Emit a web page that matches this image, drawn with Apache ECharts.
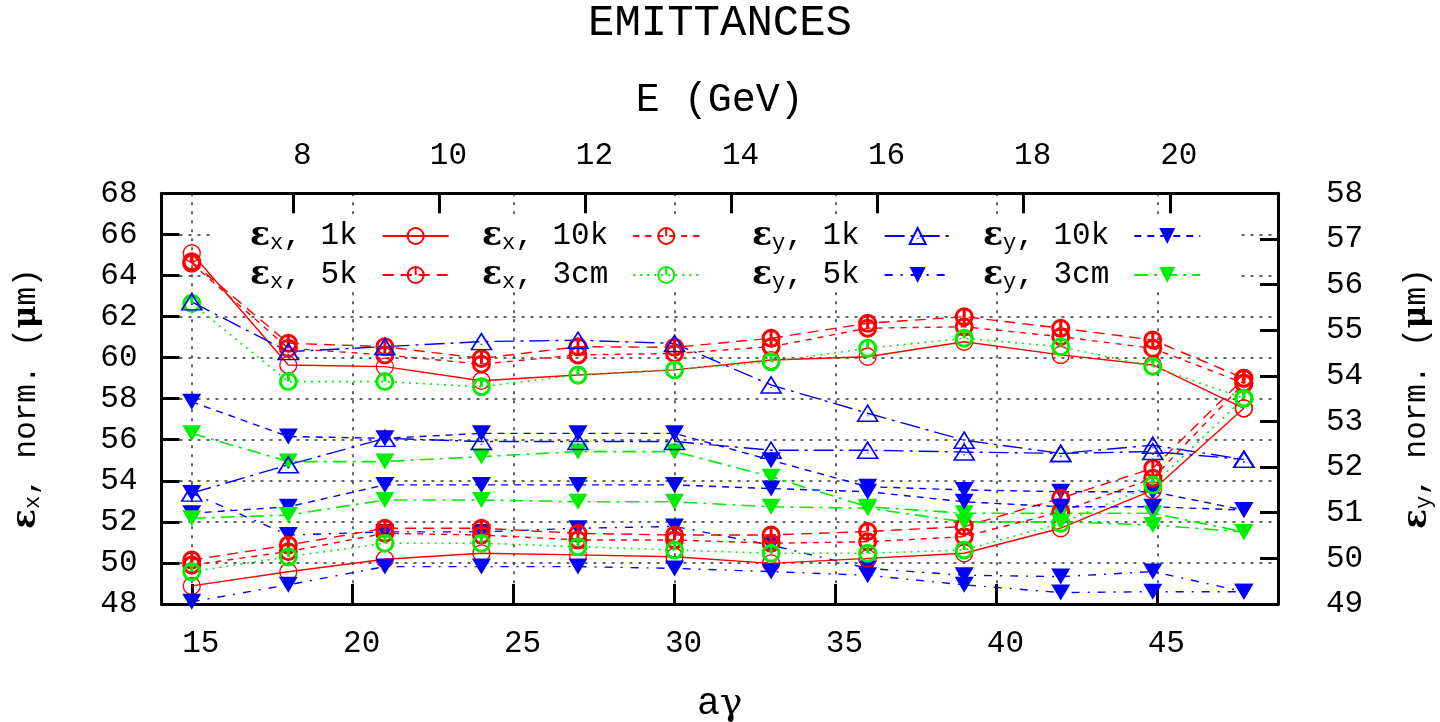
<!DOCTYPE html>
<html>
<head>
<meta charset="utf-8">
<script src="https://cdn.jsdelivr.net/npm/echarts@6/dist/echarts.min.js"></script>
<style>
html, body { margin: 0; padding: 0; background: #fff; }
#chart { width: 1440px; height: 722px; }
</style>
</head>
<body>
<div id="chart"></div>
<script>
// a-gamma of each working point
const agamma = [15, 18, 21, 24, 27, 30, 33, 36, 39, 42, 44.86, 47.69];

// horizontal emittance (left axis), upper band
const ex1kA  = [65.08, 59.64, 59.56, 58.87, 59.15, 59.40, 59.88, 60.04, 60.77, 60.13, 59.64, 57.53];
const ex5kA  = [64.67, 60.70, 60.53, 59.96, 60.53, 60.50, 60.94, 61.67, 61.99, 61.43, 60.86, 58.99];
const ex10kA = [64.59, 60.45, 60.13, 59.68, 60.13, 60.20, 60.53, 61.43, 61.50, 61.02, 60.45, 58.75];
const ex3cmA = [62.64, 58.83, 58.83, 58.58, 59.15, 59.40, 59.80, 60.45, 60.94, 60.53, 59.56, 58.02];
// horizontal emittance (left axis), lower band
const ex1kB  = [48.88, 49.57, 50.18, 50.47, 50.39, 50.30, 49.98, 50.22, 50.47, 51.69, 53.55, 57.53];
const ex5kB  = [50.14, 50.87, 51.69, 51.69, 51.44, 51.36, 51.36, 51.53, 51.77, 53.15, 54.61, 58.99];
const ex10kB = [49.90, 50.55, 51.44, 51.36, 51.12, 51.12, 50.96, 51.03, 51.28, 52.49, 54.12, 58.75];
const ex3cmB = [49.57, 50.30, 50.96, 50.96, 50.79, 50.63, 50.47, 50.47, 50.63, 51.93, 53.79, 58.02];

// vertical emittance (right axis)
const ey1kA  = [55.62, 54.53, 54.64, 54.75, 54.78, 54.71, 53.80, 53.18, 52.59, 52.30, 52.48, 52.17];
const ey1kB  = [51.43, 52.05, 52.63, 52.56, 52.56, 52.56, 52.37, 52.37, 52.33, 52.30, 52.34, 52.17];
const ey10kA = [53.43, 52.67, 52.63, 52.74, 52.74, 52.74, 52.15, 51.57, 51.50, 51.46, 51.46, 51.06];
const ey10kB = [50.99, 51.13, 51.61, 51.61, 51.61, 51.61, 51.53, 51.46, 51.24, 51.13, 51.13, 51.06];
const ey5kA  = [51.43, 50.51, 50.58, 50.58, 50.66, 50.70, 50.29, 49.78, 49.63, 49.60, 49.71, 49.27];
const ey5kB  = [49.05, 49.42, 49.82, 49.82, 49.82, 49.78, 49.71, 49.63, 49.42, 49.25, 49.27, 49.27];
const ey3cmA = [52.74, 52.12, 52.12, 52.23, 52.34, 52.34, 51.79, 51.13, 50.99, 50.99, 50.99, 50.58];
const ey3cmB = [50.88, 50.95, 51.28, 51.28, 51.24, 51.24, 51.13, 51.10, 50.80, 50.80, 50.73, 50.58];

// tick labels
const agTicks = [15, 20, 25, 30, 35, 40, 45];
const eTicks = [8, 10, 12, 14, 16, 18, 20];

const GEV_PER_AG = 0.44065;   // electron: E = a*gamma * 0.44065 GeV
const X_MIN = 14.06, X_MAX = 48.75;

const MONO = 'Liberation Mono';
const SERIF = 'DejaVu Serif';
const RED = '#ff0000', GREEN = '#00ee00', BLUE = '#0000ff';

const CIRCLE   = 'path://M0,-10A10,10,0,1,1,0,10A10,10,0,1,1,0,-10Z';
const CIRCLE_T = 'path://M0,-10A10,10,0,1,1,0,10A10,10,0,1,1,0,-10ZM0,-10L0,0';
const TRI_UP   = 'path://M0,-10L11,8L-11,8ZM0,1.5L0,2.5';
const TRI_DOWN = 'path://M-11,-8L11,-8L0,10Z';

function curve(name, vals, yIdx, color, dash, symbol, size, fill, bw, lw) {
  return {
    name: name,
    type: 'line',
    xAxisIndex: 0,
    yAxisIndex: yIdx,
    data: agamma.map((a, i) => [a, vals[i]]),
    symbol: symbol,
    symbolSize: size,
    showAllSymbol: true,
    lineStyle: { color: color, width: lw, type: dash },
    itemStyle: { color: fill, borderColor: color, borderWidth: bw },
    emphasis: { disabled: true },
    animation: false
  };
}

const NONE = 'rgba(0,0,0,0)';
const styles = {
  'εx, 1k':  [0, RED,   'solid',          CIRCLE,   [17, 17], NONE,  1.3, 1.4],
  'εx, 5k':  [0, RED,   [11, 7],          CIRCLE_T, [16, 16], NONE,  3,   1.4],
  'εx, 10k': [0, RED,   [6, 6],           CIRCLE_T, [16, 16], NONE,  3,   1.4],
  'εx, 3cm': [0, GREEN, [2, 5],           CIRCLE_T, [16, 16], NONE,  3,   1.6],
  'εy, 1k':  [1, BLUE,  [20, 6, 3, 6],    TRI_UP,   [20, 16], NONE,  1.6, 1.4],
  'εy, 5k':  [1, BLUE,  [8, 8, 2, 8],     TRI_DOWN, [19, 16], BLUE,  0,   1.4],
  'εy, 10k': [1, BLUE,  [7, 6],           TRI_DOWN, [19, 16], BLUE,  0,   1.4],
  'εy, 3cm': [1, GREEN, [14, 6, 3, 6],    TRI_DOWN, [19, 16], GREEN, 0,   1.6]
};
const bands = [
  ['εx, 1k', ex1kA], ['εx, 5k', ex5kA], ['εx, 10k', ex10kA], ['εx, 3cm', ex3cmA],
  ['εy, 1k', ey1kA], ['εy, 5k', ey5kA], ['εy, 10k', ey10kA], ['εy, 3cm', ey3cmA],
  ['εx, 1k', ex1kB], ['εx, 5k', ex5kB], ['εx, 10k', ex10kB], ['εx, 3cm', ex3cmB],
  ['εy, 1k', ey1kB], ['εy, 5k', ey5kB], ['εy, 10k', ey10kB], ['εy, 3cm', ey3cmB]
];
const series = bands.map(([name, vals]) => {
  const s = styles[name];
  return curve(name, vals, s[0], s[1], s[2], s[3], s[4], s[5], s[6], s[7]);
});

const richText = {
  e: { fontFamily: SERIF, fontSize: 33, fontWeight: 'bold', color: '#000', lineHeight: 34 },
  s: { fontFamily: MONO, fontSize: 22, color: '#000', padding: [14, 0, 0, 0], lineHeight: 22 },
  t: { fontFamily: MONO, fontSize: 31, color: '#000', lineHeight: 34 },
  tl: { fontFamily: MONO, fontSize: 31, color: '#000', lineHeight: 34, padding: [0, 20, 0, 0] },
  m: { fontFamily: SERIF, fontSize: 31, fontWeight: 'bold', color: '#000', lineHeight: 34 },
  a: { fontFamily: MONO, fontSize: 38, color: '#000', lineHeight: 40 },
  g: { fontFamily: SERIF, fontSize: 38, color: '#000', lineHeight: 40 }
};
function legendLabel(name) {
  const m = name.match(/^ε([xy])(.*)$/);
  return '{e|ε}{s|' + m[1] + '}{tl|' + m[2] + '}';
}
const legendCols = [
  { names: ['εx, 1k', 'εx, 5k'], left: 250 },
  { names: ['εx, 10k', 'εx, 3cm'], left: 482 },
  { names: ['εy, 1k', 'εy, 5k'], left: 752 },
  { names: ['εy, 10k', 'εy, 3cm'], left: 983 }
];

const axisLineStyle = { color: '#000', width: 3 };
const tickStyle = { color: '#000', width: 3 };
const labelStyle = { fontFamily: MONO, fontSize: 31, color: '#000' };
const gridLine = { color: '#333', width: 1.5, type: [3, 6] };

const option = {
  backgroundColor: '#fff',
  animation: false,
  title: {
    text: 'EMITTANCES',
    left: 'center',
    top: 1,
    padding: 0,
    textStyle: { fontFamily: MONO, fontSize: 44, fontWeight: 'normal', color: '#000' }
  },
  grid: { left: 161.5, right: 162, top: 193.3, bottom: 118, outerBoundsMode: 'none', containLabel: false },
  graphic: [{
    type: 'rect',
    z: 1,
    shape: { x: 212, y: 214, width: 1028, height: 76 },
    style: { fill: '#fff' }
  }],
  legend: legendCols.map(c => ({
    data: c.names,
    left: c.left,
    top: 218,
    orient: 'vertical',
    align: 'right',
    itemWidth: 66,
    itemHeight: 20,
    itemGap: 3,
    padding: 0,
    selectedMode: false,
    formatter: legendLabel,
    textStyle: { color: '#000', rich: richText }
  })),
  xAxis: [{
    type: 'value',
    position: 'bottom',
    min: X_MIN,
    max: X_MAX,
    axisLine: { show: true, onZero: false, lineStyle: axisLineStyle },
    axisTick: { inside: true, length: 20, lineStyle: tickStyle, customValues: agTicks },
    axisLabel: Object.assign({ customValues: agTicks, margin: 24, padding: [0, 0, 0, 18] }, labelStyle),
    splitLine: { show: true, lineStyle: gridLine },
    name: '{a|a}{g|γ}',
    nameLocation: 'middle',
    nameGap: 80,
    nameTextStyle: { rich: richText }
  }, {
    type: 'value',
    position: 'top',
    min: X_MIN * GEV_PER_AG,
    max: X_MAX * GEV_PER_AG,
    axisLine: { show: true, onZero: false, lineStyle: axisLineStyle },
    axisTick: { inside: true, length: 20, lineStyle: tickStyle, customValues: eTicks },
    axisLabel: Object.assign({ customValues: eTicks, margin: 22, padding: [0, 0, 0, 18] }, labelStyle),
    splitLine: { show: false },
    name: 'E (GeV)',
    nameLocation: 'middle',
    nameGap: 73,
    nameTextStyle: { fontFamily: MONO, fontSize: 40, color: '#000' }
  }],
  yAxis: [{
    type: 'value',
    position: 'left',
    min: 48,
    max: 68,
    interval: 2,
    axisLine: { show: true, onZero: false, lineStyle: axisLineStyle },
    axisTick: { inside: true, length: 18, lineStyle: tickStyle },
    axisLabel: Object.assign({ margin: 24, padding: [8, 0, 0, 0] }, labelStyle),
    splitLine: { show: true, lineStyle: gridLine },
    name: '{e|ε}{s|x}{t|, norm. (}{m|μ}{t|m)}',
    nameLocation: 'middle',
    nameRotate: 90,
    nameGap: 118,
    nameTextStyle: { rich: richText }
  }, {
    type: 'value',
    position: 'right',
    min: 49,
    max: 58,
    interval: 1,
    axisLine: { show: true, onZero: false, lineStyle: axisLineStyle },
    axisTick: { inside: true, length: 18, lineStyle: tickStyle },
    axisLabel: Object.assign({ margin: 48, padding: [8, 0, 0, 0] }, labelStyle),
    splitLine: { show: false },
    name: '{e|ε}{s|y}{t|, norm. (}{m|μ}{t|m)}',
    nameLocation: 'middle',
    nameRotate: 90,
    nameGap: 122,
    nameTextStyle: { rich: richText }
  }],
  series: series
};

const chart = echarts.init(document.getElementById('chart'), null, { renderer: 'canvas' });
chart.setOption(option);
</script>
</body>
</html>
